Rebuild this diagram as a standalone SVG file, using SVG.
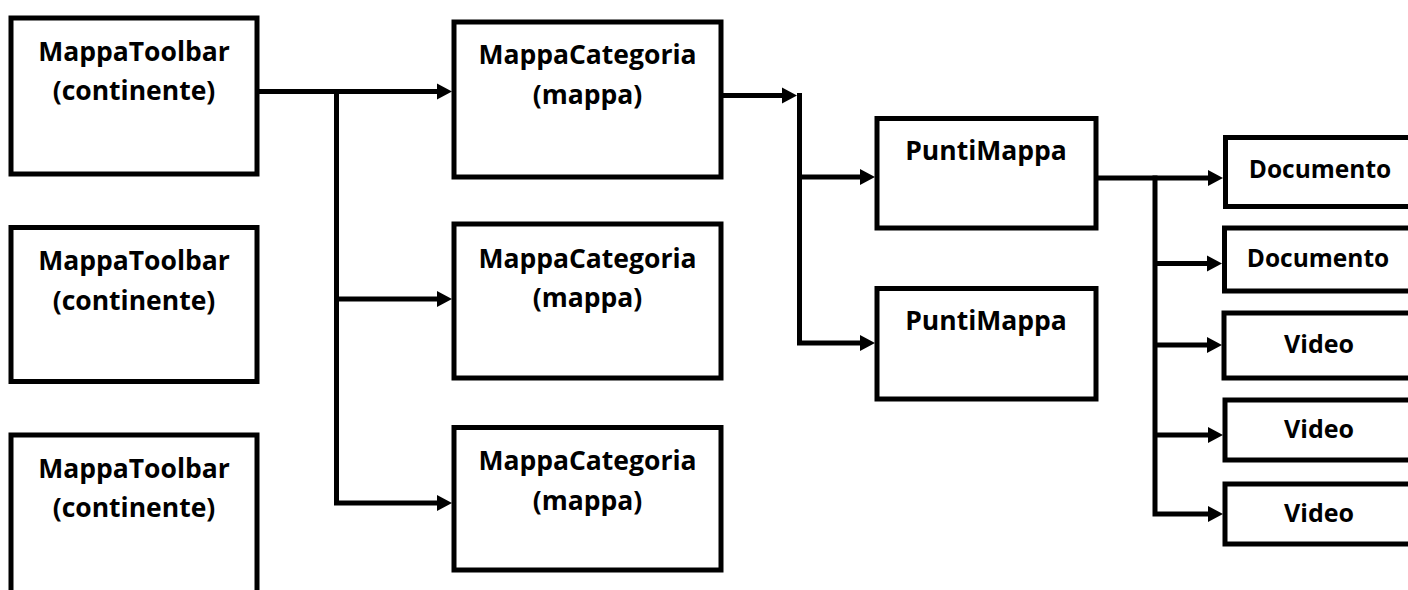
<svg xmlns="http://www.w3.org/2000/svg" width="1408" height="590" viewBox="0 0 1408 590">
  <style>
    .box { fill: #ffffff; stroke: #000000; stroke-width: 5; }
    .lbl { font-family: "Open Sans", "Liberation Sans", sans-serif; font-weight: bold; font-size: 26.5px; fill: #000000; text-anchor: middle; }
    .sm { font-size: 24.5px; }
    .vd { font-size: 25px; }
    .conn { fill: none; stroke: #000000; stroke-width: 5; stroke-linecap: butt; stroke-linejoin: miter; }
  </style>
  <defs>
    <marker id="arrow" markerUnits="userSpaceOnUse" markerWidth="16" markerHeight="16" refX="5" refY="8" orient="auto" overflow="visible">
      <path d="M0,0 L15,8 L0,16 Z" fill="#000000"/>
    </marker>
  </defs>
  <rect x="0" y="0" width="1408" height="590" fill="#ffffff"/>

  <g id="connectors">
    <path class="conn" d="M259,91.5 H442" marker-end="url(#arrow)"/>
    <path class="conn" d="M336.5,89 V503 H442" marker-end="url(#arrow)"/>
    <path class="conn" d="M336.5,299 H442" marker-end="url(#arrow)"/>
    <path class="conn" d="M723,95.5 H787" marker-end="url(#arrow)"/>
    <path class="conn" d="M799.5,93 V343 H865" marker-end="url(#arrow)"/>
    <path class="conn" d="M799.5,177 H865" marker-end="url(#arrow)"/>
    <path class="conn" d="M1098,178 H1213" marker-end="url(#arrow)"/>
    <path class="conn" d="M1155,175.5 V514 H1213" marker-end="url(#arrow)"/>
    <path class="conn" d="M1155,263.5 H1212" marker-end="url(#arrow)"/>
    <path class="conn" d="M1155,345 H1212" marker-end="url(#arrow)"/>
    <path class="conn" d="M1155,435 H1213" marker-end="url(#arrow)"/>
  </g>

  <g id="toolbar1">
    <rect class="box" x="11" y="18" width="246" height="156"/>
    <text class="lbl" x="134" y="61">MappaToolbar</text>
    <text class="lbl" x="134" y="100">(continente)</text>
  </g>
  <g id="toolbar2">
    <rect class="box" x="11" y="227.5" width="246" height="154"/>
    <text class="lbl" x="134" y="270">MappaToolbar</text>
    <text class="lbl" x="134" y="310">(continente)</text>
  </g>
  <g id="toolbar3">
    <rect class="box" x="11" y="435" width="246" height="200"/>
    <text class="lbl" x="134" y="478">MappaToolbar</text>
    <text class="lbl" x="134" y="517">(continente)</text>
  </g>

  <g id="categoria1">
    <rect class="box" x="454" y="22" width="267" height="155"/>
    <text class="lbl" x="587.5" y="64">MappaCategoria</text>
    <text class="lbl" x="587.5" y="104">(mappa)</text>
  </g>
  <g id="categoria2">
    <rect class="box" x="454" y="224" width="267" height="154"/>
    <text class="lbl" x="587.5" y="268">MappaCategoria</text>
    <text class="lbl" x="587.5" y="307">(mappa)</text>
  </g>
  <g id="categoria3">
    <rect class="box" x="454" y="427.5" width="267" height="142.5"/>
    <text class="lbl" x="587.5" y="470">MappaCategoria</text>
    <text class="lbl" x="587.5" y="510">(mappa)</text>
  </g>

  <g id="punti1">
    <rect class="box" x="877" y="118.5" width="219" height="109.5"/>
    <text class="lbl" x="986" y="160">PuntiMappa</text>
  </g>
  <g id="punti2">
    <rect class="box" x="877" y="288.5" width="219" height="110.5"/>
    <text class="lbl" x="986" y="330">PuntiMappa</text>
  </g>

  <g id="documento1">
    <rect class="box" x="1225.5" y="137.5" width="250" height="69"/>
    <text class="lbl sm" x="1320" y="177.5">Documento</text>
  </g>
  <g id="documento2">
    <rect class="box" x="1224.5" y="228" width="250" height="63"/>
    <text class="lbl sm" x="1318" y="267">Documento</text>
  </g>
  <g id="video1">
    <rect class="box" x="1224" y="313" width="250" height="65"/>
    <text class="lbl vd" x="1319" y="353">Video</text>
  </g>
  <g id="video2">
    <rect class="box" x="1225" y="400" width="250" height="60"/>
    <text class="lbl vd" x="1319" y="438">Video</text>
  </g>
  <g id="video3">
    <rect class="box" x="1225" y="484" width="250" height="60"/>
    <text class="lbl vd" x="1319" y="522">Video</text>
  </g>
</svg>
